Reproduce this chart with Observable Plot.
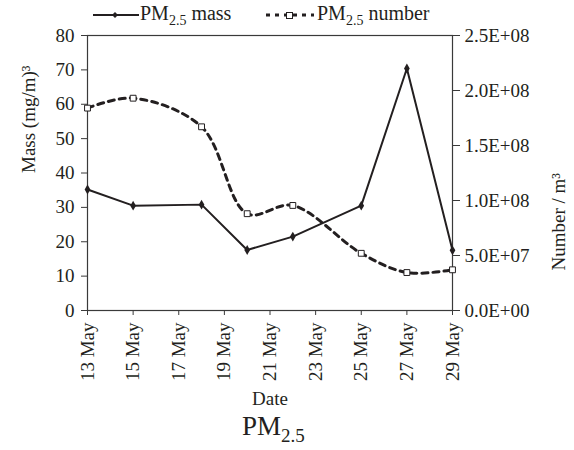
<!DOCTYPE html>
<html><head>
<meta charset="utf-8">
<script src="https://cdn.jsdelivr.net/npm/d3@7"></script>
<script src="https://cdn.jsdelivr.net/npm/@observablehq/plot@0.6"></script>
<style>
body{margin:0;background:#fff;font-family:"Liberation Serif",serif;color:#231f20}
#wrap{position:relative;width:574px;height:450px;overflow:hidden}
.lt{position:absolute;top:4px;font-size:20px;line-height:19px;white-space:nowrap}
.sub{font-size:14px;position:relative;top:5px}
.ls{position:absolute;top:6px}
#chart{position:absolute;top:26px;left:0}
#title{position:absolute;left:242px;top:413px;font-size:27px;line-height:27px;white-space:nowrap}
#title .sub{font-size:19px;top:7px}
</style></head><body>
<div id="wrap">
  <svg class="ls" style="left:93px" width="46" height="18"><line x1="0" y1="9" x2="46" y2="9" stroke="#231f20" stroke-width="2"/><path d="M22,6 L25,9 L22,12 L19,9Z" fill="#231f20"/></svg>
  <div class="lt" style="left:140px">PM<span class="sub">2.5</span> mass</div>
  <svg class="ls" style="left:266px" width="48" height="18"><line x1="0" y1="9" x2="48" y2="9" stroke="#231f20" stroke-width="3" stroke-dasharray="4,5"/><rect x="20.5" y="6.5" width="6" height="6" fill="#fff" stroke="#231f20" stroke-width="1"/></svg>
  <div class="lt" style="left:317px">PM<span class="sub">2.5</span> number</div>
  <div id="chart"></div>
  <div id="title">PM<span class="sub">2.5</span></div>
</div>
<script>
const days = [13, 15, 18, 20, 22, 25, 27, 29];
const mass = [35.2, 30.5, 30.8, 17.6, 21.5, 30.5, 70.4, 17.5];
const number = [1.84e8, 1.93e8, 1.67e8, 0.88e8, 0.955e8, 0.52e8, 0.345e8, 0.37e8];
const xTicks = [13, 15, 17, 19, 21, 23, 25, 27, 29];
const xTickLabels = ["13 May", "15 May", "17 May", "19 May", "21 May", "23 May", "25 May", "27 May", "29 May"];
const massTicks = [0, 10, 20, 30, 40, 50, 60, 70, 80];
const numberTicks = [0, 5e7, 1e8, 1.5e8, 2e8, 2.5e8];
const numberTickLabels = ["0.0E+00", "5.0E+07", "1.0E+08", "1.5E+08", "2.0E+08", "2.5E+08"];

const k = 80 / 2.5e8;
const data = days.map((d, i) => ({day: d, mass: mass[i], n: number[i] * k}));
const ink = "#231f20";

const chart = Plot.plot({
  width: 574, height: 390,
  marginTop: 9, marginLeft: 87, marginRight: 122, marginBottom: 106,
  style: {fontFamily: "Liberation Serif", fontSize: "19px", color: ink, overflow: "visible", background: "transparent"},
  x: {domain: [13, 29]},
  y: {domain: [0, 80]},
  marks: [
    Plot.frame({stroke: "#3a3a3a", strokeWidth: 1.2}),
    Plot.axisY({ticks: massTicks, tickSize: 6, tickPadding: 7, label: null, stroke: "#3a3a3a"}),
    Plot.axisY({anchor: "right", ticks: numberTicks.map(v => v * k),
      tickFormat: d => numberTickLabels[numberTicks.findIndex(v => Math.abs(v * k - d) < 1e-6)],
      tickSize: 7, tickPadding: 5, label: null, stroke: "#3a3a3a"}),
    Plot.axisX({ticks: xTicks, tickFormat: d => xTickLabels[xTicks.indexOf(d)],
      tickRotate: -90, tickSize: 5, tickPadding: 7, label: null, stroke: "#3a3a3a"}),
    Plot.line(data, {x: "day", y: "n", curve: "catmull-rom", stroke: ink, strokeWidth: 3, strokeDasharray: "6,5"}),
    Plot.line(data, {x: "day", y: "mass", stroke: ink, strokeWidth: 2}),
    Plot.dot(data, {x: "day", y: "mass", symbol: "diamond", r: 3, fill: ink}),
    Plot.dot(data, {x: "day", y: "n", symbol: "square", r: 3.3, fill: "#fff", stroke: ink, strokeWidth: 1}),
    Plot.text(["Mass (mg/m)³"], {frameAnchor: "left", dx: -59, rotate: -90, fontSize: 19, fill: ink}),
    Plot.text(["Number / m³"], {frameAnchor: "right", dx: 106, rotate: -90, fontSize: 19, fill: ink}),
    Plot.text(["Date"], {frameAnchor: "bottom", dy: 94, fontSize: 19, fill: ink})
  ]
});
document.getElementById("chart").appendChild(chart);
</script>
</body></html>
